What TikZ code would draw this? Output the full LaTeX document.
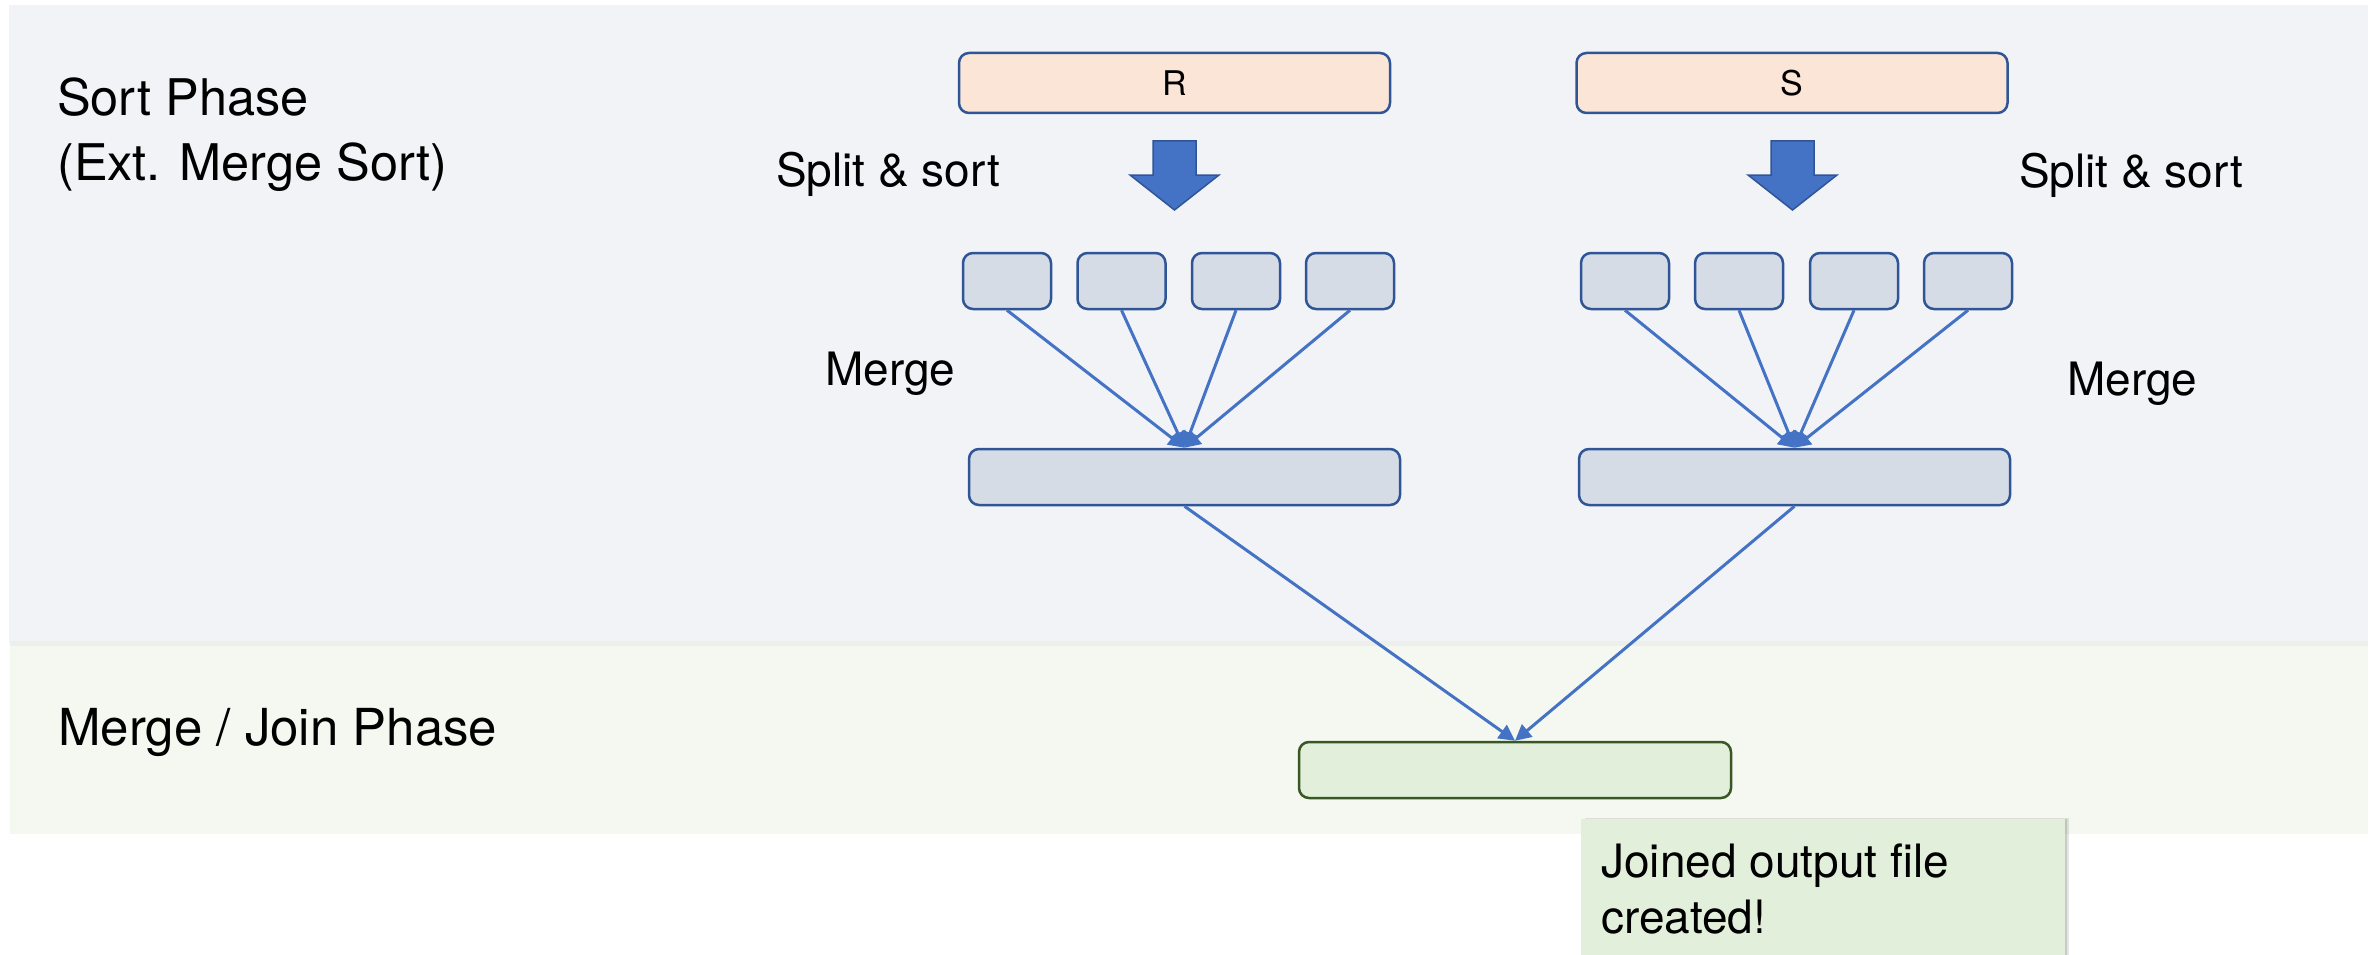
\documentclass[tikz,border=0pt]{standalone}
\usepackage{fontspec}
\setmainfont{TeX Gyre Heros}
\usetikzlibrary{arrows.meta,shadows}

\definecolor{sortbg}{HTML}{F2F3F7}
\definecolor{joinbg}{HTML}{F5F8F1}
\definecolor{seamline}{HTML}{ECEFEA}
\definecolor{relfill}{HTML}{FBE5D6}
\definecolor{runfill}{HTML}{D6DCE5}
\definecolor{darkblue}{HTML}{2F5597}
\definecolor{accent}{HTML}{4472C4}
\definecolor{outfill}{HTML}{E2EFDA}
\definecolor{darkgreen}{HTML}{385723}

\tikzset{
  relbox/.style={draw=darkblue, line width=2.5pt, fill=relfill, rounded corners=10pt,
    minimum width=431pt, minimum height=60pt, inner sep=0pt, font=\fontsize{34}{40}\selectfont},
  runbox/.style={draw=darkblue, line width=2.5pt, fill=runfill, rounded corners=10pt,
    minimum width=88pt, minimum height=56pt, inner sep=0pt},
  mergedbox/.style={draw=darkblue, line width=2.5pt, fill=runfill, rounded corners=10pt,
    minimum width=431pt, minimum height=56pt, inner sep=0pt},
  outbox/.style={draw=darkgreen, line width=2.5pt, fill=outfill, rounded corners=10pt,
    minimum width=432pt, minimum height=56pt, inner sep=0pt},
  label/.style={anchor=base west, inner sep=0pt, font=\fontsize{46}{55}\selectfont},
  title/.style={anchor=base west, inner sep=0pt, font=\fontsize{50.5}{60}\selectfont},
  flow/.style={draw=accent, line width=3pt, -{Triangle[length=16pt,width=16pt]}},
  blockarrow/.style={fill=accent, draw=darkblue, line width=1.5pt, line join=miter},
}

\begin{document}
\begin{tikzpicture}[x=1pt, y=-1pt]
  \useasboundingbox (0,0) rectangle (2379,955);
  \clip (0,0) rectangle (2379,955);

  % phase bands
  \fill[sortbg] (9,5) rectangle (2368,643);
  \fill[joinbg] (10,643) rectangle (2368,834);
  \fill[seamline] (10,641) rectangle (2368,646);

  % phase titles
  \node[title] (tsort1) at (57,116) {Sort Phase};
  \node[title] (tsort2) at (57,180) {(Ext. Merge Sort)};
  \node[title, font=\fontsize{51}{60}\selectfont] (tjoin) at (58,745) {Merge / Join Phase};

  % input relations
  \node[relbox] (R) at (1174.5,83) {R};
  \node[relbox] (S) at (1792,83) {S};

  % split & sort block arrows
  \draw[blockarrow] (1153,141) -- (1196,141) -- (1196,175) -- (1219,175) -- (1174.5,210)
    -- (1130,175) -- (1153,175) -- cycle;
  \draw[blockarrow] (1771,141) -- (1814,141) -- (1814,175) -- (1837,175) -- (1792.5,210)
    -- (1748,175) -- (1771,175) -- cycle;

  \node[label] (splitL) at (776,186) {Split \& sort};
  \node[label] (splitR) at (2019,187) {Split \& sort};

  % sorted runs
  \node[runbox] (r1) at (1007,281) {};
  \node[runbox] (r2) at (1121.5,281) {};
  \node[runbox] (r3) at (1236,281) {};
  \node[runbox] (r4) at (1350,281) {};
  \node[runbox] (s1) at (1625,281) {};
  \node[runbox] (s2) at (1739,281) {};
  \node[runbox] (s3) at (1854,281) {};
  \node[runbox] (s4) at (1968,281) {};

  % merged sorted relations
  \node[mergedbox] (mR) at (1184.5,477) {};
  \node[mergedbox] (mS) at (1794.5,477) {};

  \node[label] (mergeL) at (825,385) {Merge};
  \node[label] (mergeR) at (2067,395) {Merge};

  % join output
  \node[outbox] (out) at (1515,770) {};

  % merge connectors
  \foreach \n in {r1,r2,r3,r4} \draw[flow] (\n.south) -- (mR.north);
  \foreach \n in {s1,s2,s3,s4} \draw[flow] (\n.south) -- (mS.north);

  % join connectors
  \draw[flow] (mR.south) -- (out.north);
  \draw[flow] (mS.south) -- (out.north);

  % result callout with a soft shadow
  \node[fill=outfill, anchor=north west, minimum width=484pt, minimum height=160pt, inner sep=0pt,
    drop shadow={shadow xshift=4pt, shadow yshift=1pt, opacity=0.10, fill=black},
    drop shadow={shadow xshift=2pt, shadow yshift=0.5pt, opacity=0.12, fill=black}]
    (note) at (1581,819) {};
  \node[label] (note1) at (1601,877) {Joined output file};
  \node[label] (note2) at (1601,933) {created!};
\end{tikzpicture}
\end{document}
